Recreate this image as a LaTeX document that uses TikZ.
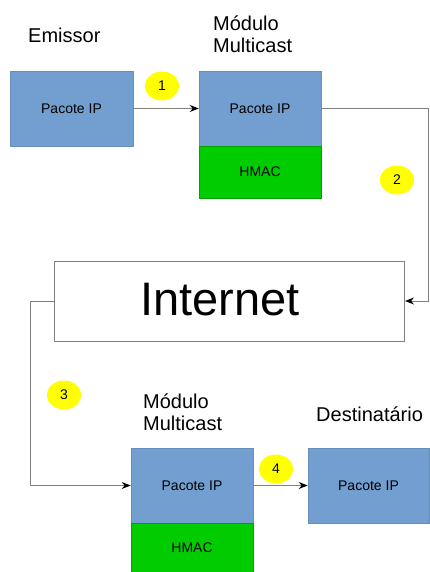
\documentclass[tikz,border=0pt]{standalone}
\usepackage{fontspec}
\setmainfont{Liberation Sans}
\usetikzlibrary{arrows.meta,shapes.geometric}
\definecolor{pktblue}{HTML}{729FCF}
\definecolor{hmacgreen}{HTML}{00CC00}
\definecolor{tagyellow}{HTML}{FFFF00}
\definecolor{wiregray}{HTML}{808080}
\tikzset{
  pkt/.style={rectangle, fill=pktblue, draw=pktblue!90!black, line width=0.6pt,
    minimum width=122, minimum height=75, inner sep=0,
    font=\fontsize{14}{16}\selectfont},
  hmac/.style={rectangle, fill=hmacgreen, draw=hmacgreen!80!black, line width=0.6pt,
    minimum width=122, inner sep=0, font=\fontsize{14}{16}\selectfont},
  tag/.style={ellipse, fill=tagyellow, draw=none, minimum width=34, minimum height=29,
    inner sep=0, font=\fontsize{14}{16}\selectfont},
  title/.style={anchor=west, inner sep=0, align=left,
    font=\fontsize{20}{22}\selectfont},
  wire/.style={draw=wiregray, line width=1pt,
    -{Stealth[length=9, width=7, color=black]}},
}
\begin{document}
\begin{tikzpicture}[x=1pt, y=-1pt]
\useasboundingbox (0,0) rectangle (429,572);

% headings
\node[title] (emissor) at (28,35) {Emissor};
\node[title] (mod1) at (213,34) {Módulo\\Multicast};
\node[title] (mod2) at (143,412) {Módulo\\Multicast};
\node[title] (dest) at (316,414) {Destinatário};

% sender packet
\node[pkt, minimum width=123] (b1) at (71.5,108.5) {Pacote IP};

% first multicast module
\node[pkt] (b2) at (260,108.5) {Pacote IP};
\node[hmac, minimum height=52] (h2) at (260,172) {HMAC};

% internet box, its label set a little left of centre
\node[rectangle, draw=wiregray, line width=1pt, minimum width=350, minimum height=80,
  inner sep=0] (inet) at (229.5,301) {};
\node[inner sep=0, font=\fontsize{47}{50}\selectfont] (inetlabel) at (220,300) {Internet};

% second multicast module
\node[pkt] (b3) at (192,485.5) {Pacote IP};
\node[hmac, minimum height=49] (h3) at (192,547.5) {HMAC};

% receiver packet
\node[pkt, minimum width=121] (b4) at (368.5,485.5) {Pacote IP};

% step markers
\node[tag] (t1) at (162,86) {1};
\node[tag] (t2) at (397,180) {2};
\node[tag] (t3) at (64,395) {3};
\node[tag] (t4) at (276,469) {4};

% connectors
\coordinate (c2) at (428,108.5);
\coordinate (c3) at (30,301);
\draw[wire] (b1.east) -- (b2.west);
\draw[wire] (b2.east) -- (c2) |- (inet.east);
\draw[wire] (inet.west) -- (c3) |- (b3.west);
\draw[wire] (b3.east) -- (b4.west);
\end{tikzpicture}
\end{document}
